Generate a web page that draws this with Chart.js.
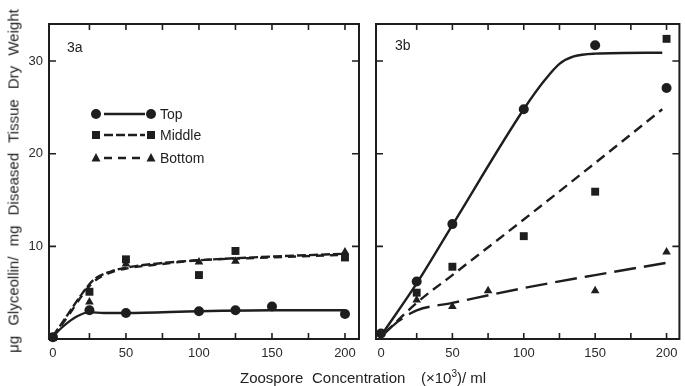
<!DOCTYPE html>
<html>
<head>
<meta charset="utf-8">
<script src="https://cdn.jsdelivr.net/npm/chart.js@4.4.1/dist/chart.umd.min.js"></script>
<style>
  body { margin: 0; background: #fff; width: 685px; height: 386px; overflow: hidden; position: relative;
         font-family: "Liberation Sans", Arial, sans-serif; color: #222; }
  .wrap { position: absolute; top: 0; height: 386px; }
  #wrapA { left: 0; width: 365px; }
  #wrapB { left: 365px; width: 320px; }
  .ytitle { position: absolute; left: 13px; top: 181px; transform: translate(-50%, -50%) rotate(-90deg);
            white-space: nowrap; font-size: 15px; line-height: 1; word-spacing: 6px; }
  .xt { position: absolute; top: 370px; font-size: 15px; line-height: 1; white-space: nowrap; }
  .xt sup { font-size: 10px; vertical-align: 6px; line-height: 0; }
  .panel { position: absolute; font-size: 14px; line-height: 1; }
</style>
</head>
<body>
<div class="wrap" id="wrapA"><canvas id="figA"></canvas></div>
<div class="wrap" id="wrapB"><canvas id="figB"></canvas></div>
<div class="panel" style="left:67px;top:40px">3a</div>
<div class="panel" style="left:395px;top:38px">3b</div>
<div class="ytitle">μg Glyceollin/ mg Diseased Tissue Dry Weight</div>
<span class="xt" style="left:240px">Zoospore</span>
<span class="xt" style="left:312px">Concentration</span>
<span class="xt" style="left:421px">(×10<sup>3</sup>)/ ml</span>
<script>
// ---- Fig. 3a : measured points ----
const aTopX = [0, 25, 50, 100, 125, 150, 200];
const aTopY = [0.2, 3.1, 2.8, 3.0, 3.1, 3.5, 2.7];
const aMidX = [0, 25, 50, 100, 125, 200];
const aMidY = [0.2, 5.1, 8.6, 6.9, 9.5, 8.8];
const aBotX = [0, 25, 50, 100, 125, 200];
const aBotY = [0.2, 4.0, 8.1, 8.3, 8.4, 9.4];
// ---- Fig. 3a : fitted curves ----
const aTopFitX = [0, 8, 16, 25, 35, 50, 100, 150, 200];
const aTopFitY = [0.3, 1.5, 2.4, 2.9, 2.8, 2.8, 3.0, 3.1, 3.1];
const aMidFitX = [0, 10, 20, 28, 40, 50, 75, 100, 150, 200];
const aMidFitY = [0.3, 2.6, 4.9, 6.4, 7.3, 7.7, 8.2, 8.5, 8.9, 9.2];
const aBotFitY = [0.3, 2.4, 4.7, 6.2, 7.2, 7.6, 8.1, 8.5, 8.8, 9.1];

// ---- Fig. 3b : measured points ----
const bTopX = [0, 25, 50, 100, 150, 200];
const bTopY = [0.6, 6.2, 12.4, 24.8, 31.7, 27.1];
const bMidX = [25, 50, 100, 150, 200];
const bMidY = [5.0, 7.8, 11.1, 15.9, 32.4];
const bBotX = [25, 50, 75, 150, 200];
const bBotY = [4.2, 3.5, 5.2, 5.2, 9.4];
// ---- Fig. 3b : fitted curves ----
const bTopFitX = [2, 25, 50, 100, 115, 125, 135, 150, 197];
const bTopFitY = [0.8, 6.0, 12.3, 24.8, 28.0, 29.7, 30.5, 30.8, 30.9];
const bMidFitX = [3, 25, 50, 100, 150, 197];
const bMidFitY = [0.7, 3.9, 6.9, 12.9, 19.0, 24.8];
const bBotFitX = [3, 12, 20, 25, 50, 100, 150, 203];
const bBotFitY = [0.7, 1.9, 2.7, 3.1, 3.9, 5.5, 6.9, 8.3];

const yTicks = [10, 20, 30];
const xLabelTicks = [0, 50, 100, 150, 200];

const ink = '#1e1e1e';
const toPts = (xs, ys) => xs.map((x, i) => ({ x: x, y: ys[i] }));

function points(xs, ys, style, radius) {
    return {
        data: toPts(xs, ys), showLine: false, pointStyle: style, pointRadius: radius,
        pointBackgroundColor: ink, pointBorderColor: ink, borderWidth: 0, clip: false
    };
}
function curve(xs, ys, dash) {
    return {
        data: toPts(xs, ys), pointRadius: 0, borderColor: ink, borderWidth: 2.4,
        borderDash: dash, cubicInterpolationMode: 'monotone', fill: false
    };
}

// frame with inward ticks on all four sides
const frameTicks = {
    id: 'frameTicks',
    afterDraw(chart) {
        const { ctx, chartArea: a, scales } = chart;
        ctx.save();
        ctx.strokeStyle = ink;
        ctx.lineWidth = 2;
        ctx.strokeRect(a.left, a.top, a.right - a.left, a.bottom - a.top);
        ctx.lineWidth = 1.6;
        ctx.beginPath();
        scales.x.ticks.forEach(t => {
            if (t.value <= 0) return;
            const px = scales.x.getPixelForValue(t.value);
            ctx.moveTo(px, a.bottom); ctx.lineTo(px, a.bottom - 6);
            ctx.moveTo(px, a.top); ctx.lineTo(px, a.top + 6);
        });
        yTicks.forEach(v => {
            const py = scales.y.getPixelForValue(v);
            ctx.moveTo(a.left, py); ctx.lineTo(a.left + 7, py);
            ctx.moveTo(a.right, py); ctx.lineTo(a.right - 7, py);
        });
        ctx.stroke();
        ctx.restore();
    }
};

function marker(ctx, style, x, y) {
    ctx.beginPath();
    if (style === 'circle') ctx.arc(x, y, 5, 0, Math.PI * 2);
    else if (style === 'rect') ctx.rect(x - 4, y - 4, 8, 8);
    else { ctx.moveTo(x, y - 5); ctx.lineTo(x + 4.5, y + 3.5); ctx.lineTo(x - 4.5, y + 3.5); ctx.closePath(); }
    ctx.fill();
}

const legendA = {
    id: 'legendA',
    afterDraw(chart) {
        const { ctx, chartArea: a } = chart;
        const rows = [['Top', 'circle', []], ['Middle', 'rect', [9, 3]], ['Bottom', 'triangle', [8, 6]]];
        const rowY = [90, 111, 134];
        ctx.save();
        ctx.fillStyle = ink; ctx.strokeStyle = ink;
        ctx.font = '14px "Liberation Sans", Arial, sans-serif';
        ctx.textBaseline = 'middle';
        rows.forEach((r, i) => {
            const y = a.top + rowY[i];
            const x1 = a.left + 47, x2 = a.left + 102;
            marker(ctx, r[1], x1, y);
            marker(ctx, r[1], x2, y);
            ctx.lineWidth = 2.4;
            ctx.setLineDash(r[2]);
            ctx.beginPath(); ctx.moveTo(x1 + 8, y); ctx.lineTo(x2 - 6, y); ctx.stroke();
            ctx.setLineDash([]);
            ctx.fillText(r[0], a.left + 111, y + 1);
        });
        ctx.restore();
    }
};

function options(xMin, xMax, yWidth, showY, padRight) {
    return {
        responsive: true,
        maintainAspectRatio: false,
        animation: false,
        layout: { padding: { top: 24, right: padRight, left: 0, bottom: 0 } },
        plugins: { legend: { display: false }, tooltip: { enabled: false } },
        scales: {
            x: {
                type: 'linear', min: xMin, max: xMax,
                grid: { display: false, drawTicks: false },
                border: { display: false },
                ticks: {
                    stepSize: 25, includeBounds: false, autoSkip: false, maxRotation: 0, padding: 7,
                    color: '#2a2a2a', font: { size: 13, family: '"Liberation Sans", Arial, sans-serif' },
                    callback: v => xLabelTicks.includes(v) ? String(v) : ''
                },
                afterFit: s => { s.height = 47; }
            },
            y: {
                min: 0, max: 34,
                grid: { display: false, drawTicks: false },
                border: { display: false },
                ticks: {
                    display: showY, stepSize: 10, includeBounds: false, padding: 6,
                    color: '#2a2a2a', font: { size: 13, family: '"Liberation Sans", Arial, sans-serif' },
                    callback: v => yTicks.includes(v) ? String(v) : ''
                },
                afterFit: s => { s.width = yWidth; }
            }
        }
    };
}

new Chart(document.getElementById('figA'), {
    type: 'line',
    data: {
        datasets: [
            curve(aTopFitX, aTopFitY, []),
            curve(aMidFitX, aMidFitY, [9, 3]),
            curve(aMidFitX, aBotFitY, [8, 6]),
            points(aTopX, aTopY, 'circle', 5),
            points(aMidX, aMidY, 'rect', 5.6),
            points(aBotX, aBotY, 'triangle', 5)
        ]
    },
    options: options(-2.7, 209.6, 49, true, 6),
    plugins: [frameTicks, legendA]
});

new Chart(document.getElementById('figB'), {
    type: 'line',
    data: {
        datasets: [
            curve(bTopFitX, bTopFitY, []),
            curve(bMidFitX, bMidFitY, [10, 6]),
            curve(bBotFitX, bBotFitY, [22, 8]),
            points(bTopX, bTopY, 'circle', 5),
            points(bMidX, bMidY, 'rect', 5.6),
            points(bBotX, bBotY, 'triangle', 5)
        ]
    },
    options: options(-3.5, 209, 11, false, 1),
    plugins: [frameTicks]
});
</script>
</body>
</html>
